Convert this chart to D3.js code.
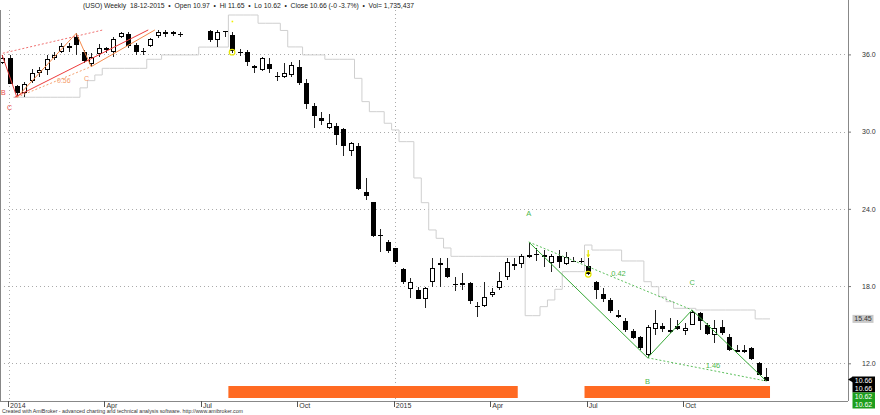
<!DOCTYPE html>
<html><head><meta charset="utf-8">
<script src="https://cdn.jsdelivr.net/npm/d3@7"></script>
<style>body{margin:0;background:#fff;} svg{display:block;font-family:"Liberation Sans",Arial,sans-serif;}</style>
</head><body><svg id="c" width="880" height="415"></svg>
<script>
// ---- data (weekly bars, first entry = bar -1, i.e. week of 27-12-2013) ----
const firstBar = -1;
const opens  = [35.36,35.75,33.57,33.03,33.93,34.53,34.79,35.70,36.21,36.62,37.38,36.21,35.31,36.09,36.48,36.13,37.33,37.56,36.73,36.30,36.60,37.44,37.70,37.77,37.59,null,null,null,37.84,37.07,37.82,37.51,36.15,36.21,35.10,34.79,35.26,34.34,34.19,34.40,35.00,33.76,32.02,31.08,30.26,30.46,30.18,28.44,28.88,25.29,24.51,21.93,21.40,20.94,19.33,17.77,17.70,17.00,18.34,19.77,19.38,18.15,18.08,18.22,16.49,16.45,17.31,17.83,18.68,19.58,19.77,20.26,20.47,20.41,19.85,20.36,19.72,19.96,19.96,19.58,18.34,17.36,16.92,15.75,15.29,14.51,14.07,12.64,14.67,14.90,14.41,14.92,14.51,15.03,15.93,14.98,14.20,14.84,14.07,13.03,12.85,13.17,12.05,10.97];
const highs  = [35.96,35.96,33.66,33.86,34.84,35.05,35.96,36.21,36.86,36.86,37.64,36.34,36.09,36.81,36.60,37.38,37.77,37.77,36.86,36.48,37.25,37.90,37.90,37.85,37.77,null,null,null,37.90,37.90,37.85,37.77,36.40,36.34,35.18,35.82,35.70,34.66,35.36,35.43,35.57,34.07,32.20,31.55,31.37,30.65,30.26,29.22,29.14,26.38,24.53,22.43,21.58,20.96,19.40,18.60,17.95,17.95,20.21,20.16,20.16,18.73,18.99,18.34,16.74,18.29,17.83,19.12,20.21,20.16,20.47,21.42,20.94,20.80,20.47,20.80,20.67,20.28,20.21,20.16,18.39,17.83,17.10,16.14,15.50,14.67,14.12,14.98,16.14,15.11,15.50,15.36,15.11,16.14,16.01,15.11,15.36,15.36,14.28,13.42,13.42,13.27,12.10,11.65];
const lows   = [35.26,33.70,32.67,32.69,33.78,34.27,34.40,35.54,36.09,36.21,35.96,35.31,35.05,35.82,36.09,35.82,37.25,36.48,35.96,35.96,36.55,37.25,37.38,37.44,37.38,null,null,null,36.99,36.60,37.38,36.09,35.86,35.10,34.58,34.73,34.58,33.96,34.14,34.27,33.62,31.74,30.26,30.52,30.18,28.96,28.13,28.13,25.47,24.69,21.85,20.65,20.55,19.69,18.14,17.10,16.96,16.32,17.95,17.95,18.60,17.62,17.70,16.58,15.62,16.40,17.17,17.70,18.47,19.25,19.43,20.16,19.95,19.51,19.12,19.43,19.64,19.85,19.77,18.86,17.00,16.79,15.89,15.54,14.41,13.89,13.03,12.43,14.20,14.46,14.33,14.59,14.20,14.98,14.59,14.20,13.55,14.20,12.96,12.88,12.78,12.26,11.09,10.62];
const closes = [35.75,33.76,33.06,33.70,34.53,34.79,35.62,35.96,36.65,36.65,36.73,35.51,35.82,36.52,36.34,37.17,37.64,36.60,36.21,36.29,37.17,37.77,37.72,37.64,37.58,null,null,null,37.12,37.72,37.72,36.29,36.13,35.43,34.92,35.75,34.87,34.32,34.53,35.18,33.76,32.15,31.22,30.85,30.65,29.74,28.83,29.09,25.52,24.95,21.89,21.91,20.67,19.85,18.29,18.29,17.00,17.87,19.43,19.61,18.68,18.13,18.22,16.79,16.47,17.17,17.56,18.39,19.85,19.69,20.36,20.41,20.45,20.24,20.36,19.89,20.24,19.95,19.95,18.99,17.70,17.00,16.06,15.57,14.59,13.99,13.21,14.84,15.11,14.64,14.59,14.72,14.72,16.01,15.29,14.25,14.77,14.41,13.03,12.90,13.03,12.33,11.15,10.66];
// grey stop line, bars 1..102
const stopStart = 1;
const stopLine = [32.67,32.67,32.67,32.67,32.67,32.67,32.67,32.67,32.67,33.40,33.96,34.40,34.92,34.92,34.92,34.92,34.92,34.92,35.62,35.62,35.96,35.96,35.96,35.96,35.96,36.57,36.57,36.57,36.57,39.06,39.06,39.06,39.06,38.42,38.42,38.42,37.86,36.58,36.58,35.96,35.96,35.96,35.62,35.62,35.62,35.62,34.14,32.33,31.55,31.55,30.65,30.13,29.22,29.22,26.40,24.48,22.36,21.71,20.96,20.31,20.31,20.31,20.31,20.31,20.31,20.31,20.31,20.31,20.31,15.70,15.70,16.40,16.92,17.75,19.12,19.12,19.12,21.19,20.80,20.80,20.80,20.80,19.95,19.95,19.95,18.34,17.95,17.17,16.79,16.27,16.27,16.27,16.14,16.14,16.14,16.14,16.14,16.14,16.14,16.14,15.45,15.45];
const tickBars   = [0,13,26,39,52,65,78,91];
const tickLabels = ["2014","Apr","Jul","Oct","2015","Apr","Jul","Oct"];
const yTicks = [12,18,24,30,36];
const yearBars = [0,52];
const zoneStarts = [30,78];
const zoneEnds   = [68,102];
// green harmonic pattern A-B-C-D
const greenBars   = [70,86,92,102];
const greenPrices = [21.42,12.43,16.14,10.62];
const greenNames  = ["A","B","C",""];
const greenRatios = ["0.42","1.46"];
// red/orange pattern (top left)
const redBars   = [-1,1,9,11];
const redPrices = [35.96,32.67,37.64,35.05];
const redChannelEnds = [[18.7,37.90],[19.6,37.90],[12.6,37.90]];
const redRatio = "0.56";
const headerText = "(USO) Weekly  18-12-2015  \u2022  Open 10.97  \u2022  Hi 11.65  \u2022  Lo 10.62  \u2022  Close 10.66 (-0 -3.7%)  \u2022  Vol= 1,735,437";
const footerText = "Created with AmiBroker - advanced charting and technical analysis software. http://www.amibroker.com";
const lastClose = 10.66, lastLow = 10.62, stopLast = 15.45;

// ---- drawing ----
const svg = d3.select("#c");
const W = 880, H = 415, plotR = 848, plotB = 401, plotT = 10;
const x = d3.scaleLinear().domain([0,102]).range([9.5,766.3]);
const y = d3.scaleLinear().domain([12,36]).range([363.3,54.4]);
const step = x(1)-x(0);

svg.append("defs").append("clipPath").attr("id","clip")
  .append("rect").attr("x",0).attr("y",plotT).attr("width",plotR).attr("height",plotB-plotT);

// grid
svg.append("g").selectAll("line").data(yTicks).join("line")
  .attr("x1",0).attr("x2",plotR).attr("y1",d=>Math.round(y(d))+0.5).attr("y2",d=>Math.round(y(d))+0.5)
  .attr("stroke","#aaa").attr("stroke-dasharray","1,3");
svg.append("g").selectAll("line").data(yearBars).join("line")
  .attr("x1",d=>Math.round(x(d)-0.3)+0.5).attr("x2",d=>Math.round(x(d)-0.3)+0.5).attr("y1",plotT).attr("y2",plotB)
  .attr("stroke","#aaa").attr("stroke-dasharray","1,3");

// orange zones
svg.append("g").selectAll("rect").data(zoneStarts).join("rect")
  .attr("x",(d)=>x(d)-step/2).attr("width",(d,k)=>x(zoneEnds[k])-x(d)+step)
  .attr("y",386).attr("height",12).attr("fill","#ff6a22");

const plot = svg.append("g").attr("clip-path","url(#clip)");

// grey stop line
const stopPts = stopLine.map((v,k)=>[x(k+stopStart-0.5), y(v)]);
stopPts.push([x(stopStart+stopLine.length-0.5), y(stopLine[stopLine.length-1])]);
plot.append("path").attr("d", d3.line().curve(d3.curveStepAfter)(stopPts))
  .attr("fill","none").attr("stroke","#cfcfcf").attr("stroke-width",1);

// candles
const bars = opens.map((o,j)=>({i:j+firstBar,o,h:highs[j],l:lows[j],c:closes[j]})).filter(d=>d.o!=null);
const cg = plot.append("g").attr("shape-rendering","crispEdges");
cg.selectAll("line").data(bars).join("line")
  .attr("x1",d=>Math.round(x(d.i))+0.5).attr("x2",d=>Math.round(x(d.i))+0.5)
  .attr("y1",d=>y(d.h)).attr("y2",d=>y(d.l)).attr("stroke","#222");
cg.selectAll("rect").data(bars).join("rect")
  .attr("x",d=>Math.round(x(d.i))-2+(d.c>=d.o?0.5:0))
  .attr("width",d=>d.c>=d.o?4:5)
  .attr("y",d=>{const t=y(Math.max(d.o,d.c));return Math.round(t)+(d.c>=d.o?0.5:0);})
  .attr("height",d=>{const h=Math.abs(y(d.o)-y(d.c));return Math.max(d.c>=d.o?0.5:1,Math.round(h)-(d.c>=d.o?1:0));})
  .attr("fill",d=>d.c>=d.o?"#fff":"#000")
  .attr("stroke",d=>d.c>=d.o?"#000":"none");

// red / orange pattern
const rp = k=>[x(redBars[k]),y(redPrices[k])];
const rl = (a,b,col,dash)=>plot.append("line").attr("x1",a[0]).attr("y1",a[1]).attr("x2",b[0]).attr("y2",b[1])
  .attr("stroke",col).attr("stroke-width",1).attr("stroke-dasharray",dash||null);
rl(rp(0),rp(1),"#e83a3a");
rl(rp(1),rp(2),"#f5894a");
rl(rp(2),rp(3),"#f5894a");
rl([x(0.7),y(redPrices[1])],[x(redChannelEnds[0][0]),y(redChannelEnds[0][1])],"#ee3b3b");
rl(rp(3),[x(redChannelEnds[1][0]),y(redChannelEnds[1][1])],"#f5894a");
rl([x(-0.9),y(36.09)],[x(redChannelEnds[2][0]),y(redChannelEnds[2][1])],"#f07070","2,2");
rl(rp(1),rp(3),"#f5a070","2,2");
plot.append("text").attr("x",(rp(1)[0]+rp(3)[0])/2+3).attr("y",(rp(1)[1]+rp(3)[1])/2+1)
  .attr("font-size",7).attr("fill","#f59a6a").text(redRatio);
plot.append("text").attr("x",rp(3)[0]-7).attr("y",rp(3)[1]+14).attr("font-size",7).attr("fill","#f59a6a").text("C");
plot.append("text").attr("x",1).attr("y",rp(1)[1]-2).attr("font-size",7).attr("fill","#e84a4a").text("B");
plot.append("text").attr("x",7).attr("y",rp(1)[1]+13).attr("font-size",7).attr("fill","#e84a4a").text("C");

// green pattern
const gp = k=>[x(greenBars[k]),y(greenPrices[k])];
const gl = (a,b,dash)=>plot.append("line").attr("x1",a[0]).attr("y1",a[1]).attr("x2",b[0]).attr("y2",b[1])
  .attr("stroke",dash?"#5cc05c":"#35a835").attr("stroke-width",1).attr("stroke-dasharray",dash||null);
gl(gp(0),gp(1)); gl(gp(1),gp(2)); gl(gp(2),gp(3));
gl(gp(0),gp(2),"2,2"); gl(gp(1),gp(3),"2,2");
const gtxt = (tx,ty,s)=>plot.append("text").attr("x",tx).attr("y",ty).attr("font-size",7.5)
  .attr("fill","#4cb84c").attr("text-anchor","middle").text(s);
gtxt(gp(0)[0],gp(0)[1]-26,greenNames[0]);
gtxt(gp(1)[0],gp(1)[1]+26,greenNames[1]);
gtxt(gp(2)[0],gp(2)[1]-25,greenNames[2]);
gtxt((gp(0)[0]+gp(2)[0])/2+8,(gp(0)[1]+gp(2)[1])/2,greenRatios[0]);
gtxt((gp(1)[0]+gp(3)[0])/2+6,(gp(1)[1]+gp(3)[1])/2-1,greenRatios[1]);

// yellow markers
const yc = (b,p)=>plot.append("circle").attr("cx",x(b)).attr("cy",y(p)).attr("r",2.8)
  .attr("fill","none").attr("stroke","#e6e600").attr("stroke-width",1.2);
yc(30,36.17); yc(78,18.92);
plot.append("rect").attr("x",x(30)-0.5).attr("y",y(38.54)-1).attr("width",1.6).attr("height",1.6).attr("fill","#f0f000");
plot.append("line").attr("x1",x(78)).attr("x2",x(78)).attr("y1",y(20.80)).attr("y2",y(20.28)+0.5).attr("stroke","#e6e600").attr("stroke-width",1.2);
plot.append("path").attr("d",`M${x(78)-2},${y(20.45)} L${x(78)+2},${y(20.45)} L${x(78)},${y(20.22)} Z`).attr("fill","#e6e600");

// frame / axes
svg.append("line").attr("x1",plotR+0.5).attr("x2",plotR+0.5).attr("y1",0).attr("y2",plotB).attr("stroke","#888");
svg.append("line").attr("x1",0).attr("x2",plotR).attr("y1",plotB+0.5).attr("y2",plotB+0.5).attr("stroke","#888");
svg.append("line").attr("x1",0.5).attr("x2",0.5).attr("y1",plotT).attr("y2",plotB).attr("stroke","#888");

const ya = svg.append("g").attr("transform",`translate(${plotR},0)`)
  .call(d3.axisRight(y).tickValues(yTicks).tickFormat(d3.format(".1f")).tickSize(3).tickPadding(11));
ya.select(".domain").remove();
ya.selectAll("line").attr("stroke","#777");
ya.selectAll("text").attr("font-size",7).attr("fill","#333").attr("font-family","Liberation Sans, Arial, sans-serif");

const xg = svg.append("g");
xg.selectAll("line").data(tickBars).join("line")
  .attr("x1",d=>Math.round(x(d)-1.5)+0.5).attr("x2",d=>Math.round(x(d)-1.5)+0.5)
  .attr("y1",plotB).attr("y2",plotB+6).attr("stroke","#555");
xg.selectAll("text").data(tickBars).join("text")
  .attr("x",d=>x(d)+0.5).attr("y",plotB+6.5).attr("font-size",7).attr("fill","#333")
  .text((d,k)=>tickLabels[k]);

// right-side value labels
const rb = svg.append("g");
rb.append("rect").attr("x",852.5).attr("y",y(stopLast)-4).attr("width",21).attr("height",8).attr("fill","#c9c9c9");
rb.append("text").attr("x",863).attr("y",y(stopLast)+2.6).attr("font-size",7).attr("fill","#333").attr("text-anchor","middle").text(stopLast.toFixed(2));
rb.append("path").attr("d",`M848,${y(lastClose)-1} L853,${y(lastClose)-4} L853,${y(lastClose)+2} Z`).attr("fill","#000");
rb.append("rect").attr("x",852.5).attr("y",376.5).attr("width",22.5).attr("height",16).attr("fill","#000");
rb.append("rect").attr("x",852.5).attr("y",392.5).attr("width",22.5).attr("height",16).attr("fill","#1d9e1d");
[[383,lastClose],[391,lastClose],[399,lastLow],[407,lastLow]].forEach(([ty,v])=>{
  rb.append("text").attr("x",863.5).attr("y",ty).attr("font-size",7).attr("fill","#fff").attr("text-anchor","middle").text(v.toFixed(2));
});

// header / footer
svg.append("text").attr("x",83).attr("y",7.5).attr("font-size",7.2).attr("fill","#222")
  .attr("textLength",331).attr("lengthAdjust","spacingAndGlyphs").attr("xml:space","preserve").style("white-space","pre").text(headerText);
svg.append("text").attr("x",2).attr("y",413).attr("font-size",5.6).attr("fill","#333")
  .attr("textLength",241).attr("lengthAdjust","spacingAndGlyphs").text(footerText);
</script></body></html>
